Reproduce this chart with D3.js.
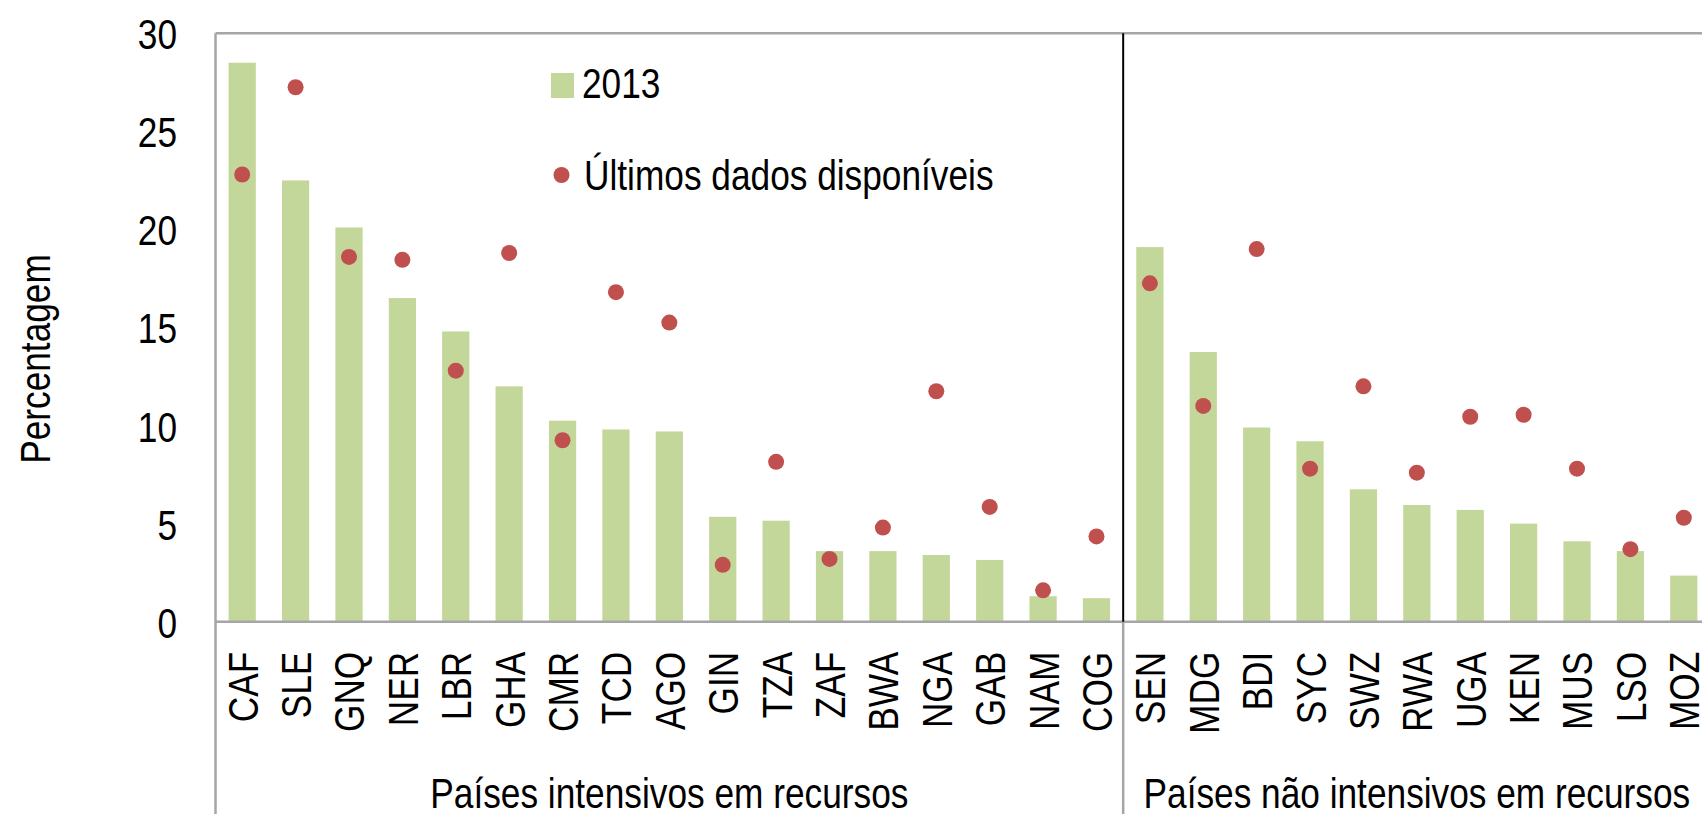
<!DOCTYPE html>
<html>
<head>
<meta charset="utf-8">
<script src="https://cdn.jsdelivr.net/npm/d3@7"></script>
<style>
  html, body { margin: 0; padding: 0; background: #fff; overflow: hidden; }
  svg text { font-family: "Liberation Sans Narrow", "Arial Narrow", "Liberation Sans", Arial, sans-serif; fill: #000; }
</style>
</head>
<body>
<svg id="chart" width="1702" height="814"></svg>
<script>
// ---- data ----
const groupResource = ["CAF","SLE","GNQ","NER","LBR","GHA","CMR","TCD","AGO","GIN","TZA","ZAF","BWA","NGA","GAB","NAM","COG"];
const groupNonResource = ["SEN","MDG","BDI","SYC","SWZ","RWA","UGA","KEN","MUS","LSO","MOZ"];
const groupNames = ["Países intensivos em recursos", "Países não intensivos em recursos"];
const values2013 = [28.5,22.5,20.1,16.5,14.8,12.0,10.25,9.8,9.7,5.35,5.15,3.6,3.6,3.4,3.15,1.3,1.2,
                    19.1,13.75,9.9,9.2,6.75,5.95,5.7,5.0,4.1,3.6,2.35];
const latestValues = [22.8,27.25,18.6,18.45,12.8,18.8,9.25,16.8,15.25,2.9,8.15,3.2,4.8,11.75,5.85,1.6,4.35,
                      17.25,11.0,19.0,7.8,12.0,7.6,10.45,10.55,7.8,3.7,5.3];
const yTicks = [0,5,10,15,20,25,30];
const legendLabels = ["2013", "Últimos dados disponíveis"];
const yTitle = "Percentagem";

// ---- layout ----
const categories = groupResource.concat(groupNonResource);
const svg = d3.select("#chart");
const plotLeft = 215.5, plotRight = 1710.5, plotTop = 33.3, plotBottom = 621.7, H = 814;
const FS = 43;
const SX = 0.82; // horizontal condensing (narrow face)
const barColor = "#c4d79b", dotColor = "#c0504d", borderColor = "#a6a6a6";

const x = d3.scaleBand().domain(categories).range([plotLeft, plotRight])
  .paddingInner(0.49).paddingOuter(0.245);
const y = d3.scaleLinear().domain([0, 30]).range([plotBottom, plotTop]);

// bars
svg.append("g").selectAll("rect").data(categories).join("rect")
  .attr("x", d => x(d)).attr("width", x.bandwidth())
  .attr("y", (d, i) => y(values2013[i]))
  .attr("height", (d, i) => y(0) - y(values2013[i]))
  .attr("fill", barColor);

// borders
const sepX = x(groupNonResource[0]) - (x.step() - x.bandwidth()) / 2;
svg.append("line").attr("x1", plotLeft).attr("x2", 1702).attr("y1", plotTop).attr("y2", plotTop)
  .attr("stroke", borderColor).attr("stroke-width", 2.5);
svg.append("line").attr("x1", plotLeft).attr("x2", plotLeft).attr("y1", plotTop).attr("y2", H)
  .attr("stroke", borderColor).attr("stroke-width", 2.5);
svg.append("line").attr("x1", plotLeft).attr("x2", 1702).attr("y1", y(0)).attr("y2", y(0))
  .attr("stroke", borderColor).attr("stroke-width", 2.5);
svg.append("line").attr("x1", sepX).attr("x2", sepX).attr("y1", y(0)).attr("y2", H)
  .attr("stroke", borderColor).attr("stroke-width", 2.5);
svg.append("line").attr("x1", sepX).attr("x2", sepX).attr("y1", plotTop).attr("y2", y(0))
  .attr("stroke", "#000").attr("stroke-width", 2);

// dots
svg.append("g").selectAll("circle").data(categories).join("circle")
  .attr("cx", d => x(d) + x.bandwidth() / 2)
  .attr("cy", (d, i) => y(latestValues[i]))
  .attr("r", 8).attr("fill", dotColor);

// y axis
const yAxis = d3.axisLeft(y).tickValues(yTicks).tickSize(0).tickPadding(0).tickFormat(d3.format("d"));
const gy = svg.append("g").attr("transform", "translate(177,0)").call(yAxis);
gy.select(".domain").remove();
gy.selectAll("text").attr("font-size", FS).attr("font-family", null)
  .attr("x", 0).attr("dy", "0.36em").attr("transform", `scale(${SX},1)`);

// x axis labels
const xAxis = d3.axisBottom(x).tickSize(0).tickPadding(0);
const gx = svg.append("g").attr("transform", `translate(0,${y(0)})`).call(xAxis);
gx.select(".domain").remove();
gx.selectAll("text")
  .attr("font-size", FS).attr("font-family", null)
  .attr("text-anchor", "end")
  .attr("transform", `rotate(-90) scale(${SX},1)`)
  .attr("x", -30 / SX).attr("y", 0).attr("dy", "0.36em");

// helper for condensed horizontal / rotated text
function label(px, py, txt, anchor, rot) {
  svg.append("text")
    .attr("transform", `translate(${px},${py})${rot ? " rotate(" + rot + ")" : ""} scale(${SX},1)`)
    .attr("text-anchor", anchor).attr("font-size", FS).text(txt);
}

// group labels
const groups = [groupResource, groupNonResource];
groups.forEach((g, i) => {
  const x0 = x(g[0]) - (x.step() - x.bandwidth()) / 2;
  const x1 = x(g[g.length - 1]) + x.bandwidth() + (x.step() - x.bandwidth()) / 2;
  label((x0 + x1) / 2, 808, groupNames[i], "middle");
});

// y title
label(50, 359, yTitle, "middle", -90);

// legend
svg.append("rect").attr("x", 551).attr("y", 73).attr("width", 23).attr("height", 25).attr("fill", barColor);
label(582, 98, legendLabels[0], "start");
svg.append("circle").attr("cx", 561.5).attr("cy", 175).attr("r", 8).attr("fill", dotColor);
label(584, 190, legendLabels[1], "start");
</script>
</body>
</html>
